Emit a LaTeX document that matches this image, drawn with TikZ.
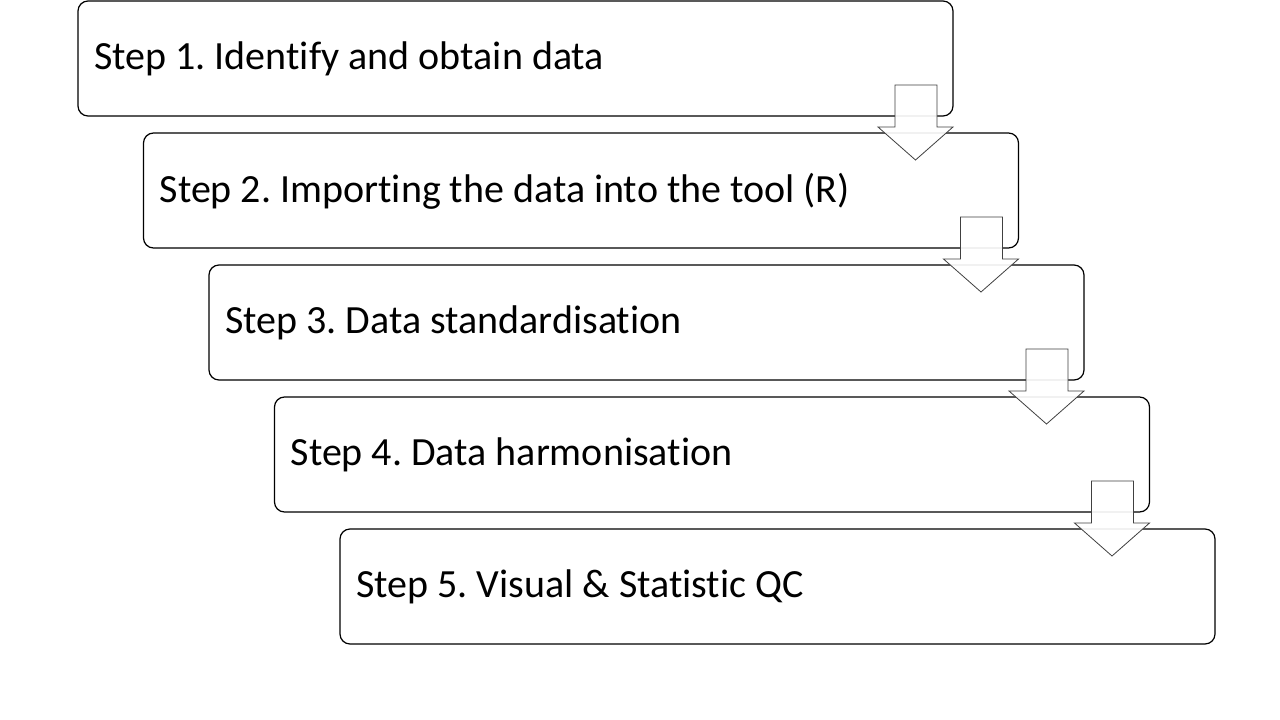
\documentclass[tikz,border=0pt]{standalone}
\usepackage{fontspec}
\setmainfont[Ligatures=NoCommon]{Carlito}
\begin{document}
\frenchspacing
\begin{tikzpicture}[x=1pt,y=-1pt,
  stepbox/.style={draw=black,line width=1.2pt,rounded corners=10pt,fill=white},
  steptext/.style={anchor=west,inner sep=0pt,font=\fontsize{40}{44}\selectfont},
  blockarrow/.style={draw=black!75,line width=0.8pt,fill=white,fill opacity=0.92}]
\useasboundingbox (0,0) rectangle (1280,720);
\foreach \i/\t in {0/{Step 1. Identify and obtain data},1/{Step 2. Importing the data into the tool (R)},2/{Step 3. Data standardisation},3/{Step 4. Data harmonisation},4/{Step 5. Visual \& Statistic QC}}{
  \pgfmathsetmacro{\xo}{78+65.5*\i}
  \pgfmathsetmacro{\yo}{1+132*\i}
  \draw[stepbox] (\xo,\yo) rectangle ++(875,115);
  \node[steptext] (s\i) at (\xo+16,\yo+58) {\t};
}
\foreach \i in {0,1,2,3}{
  \pgfmathsetmacro{\xr}{953+65.5*\i}
  \pgfmathsetmacro{\yt}{85+132*\i}
  \draw[blockarrow] (\xr-58,\yt) -- (\xr-16,\yt) -- (\xr-16,\yt+42) -- (\xr,\yt+42)
     -- (\xr-37.5,\yt+75) -- (\xr-75,\yt+42) -- (\xr-58,\yt+42) -- cycle;
}
\end{tikzpicture}
\end{document}
